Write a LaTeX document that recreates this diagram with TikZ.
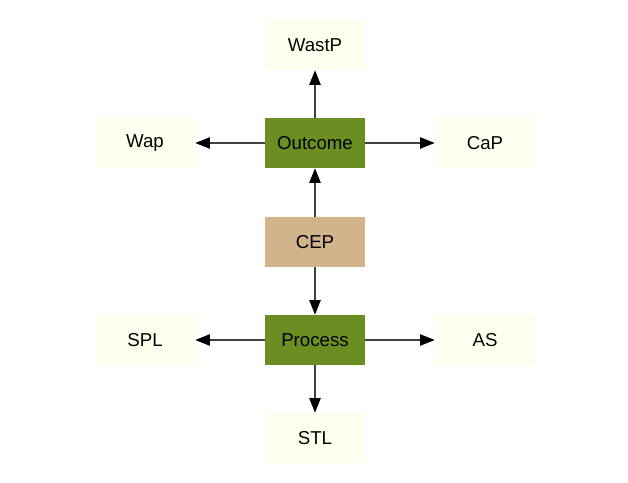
\documentclass[tikz,border=0pt]{standalone}
\usepackage{fontspec}
\setmainfont{Liberation Sans}
\usetikzlibrary{arrows.meta}
\definecolor{ivoryfill}{HTML}{FFFFF0}
\definecolor{olivefill}{HTML}{6B8E23}
\definecolor{tanfill}{HTML}{D2B48C}
\definecolor{linegray}{HTML}{404040}
\begin{document}
\begin{tikzpicture}[x=0.75pt,y=-0.75pt,
  box/.style={minimum width=75pt,minimum height=37.5pt,inner sep=0pt,font=\fontsize{14}{16}\selectfont,text=black},
  leaf/.style={box,fill=ivoryfill},
  hub/.style={box,fill=olivefill},
  core/.style={box,fill=tanfill},
  conn/.style={draw=linegray,line width=1.1pt,-{Triangle[length=11pt,width=8.5pt,fill=black,color=black]}}]
\useasboundingbox (0,0) rectangle (628,482);
\node[leaf] (wastp) at (315,45) {WastP};
\node[leaf] (wap) at (145,143) {Wap};
\node[hub] (outcome) at (315,143) {Outcome};
\node[leaf] (cap) at (485,143) {CaP};
\node[core] (cep) at (315,242) {CEP};
\node[leaf] (spl) at (145,340) {SPL};
\node[hub] (process) at (315,340) {Process};
\node[leaf] (as) at (485,340) {AS};
\node[leaf] (stl) at (315,438) {STL};
\draw[conn] (outcome) -- (wastp);
\draw[conn] (outcome) -- (wap);
\draw[conn] (outcome) -- (cap);
\draw[conn] (cep) -- (outcome);
\draw[conn] (cep) -- (process);
\draw[conn] (process) -- (spl);
\draw[conn] (process) -- (as);
\draw[conn] (process) -- (stl);
\end{tikzpicture}
\end{document}
